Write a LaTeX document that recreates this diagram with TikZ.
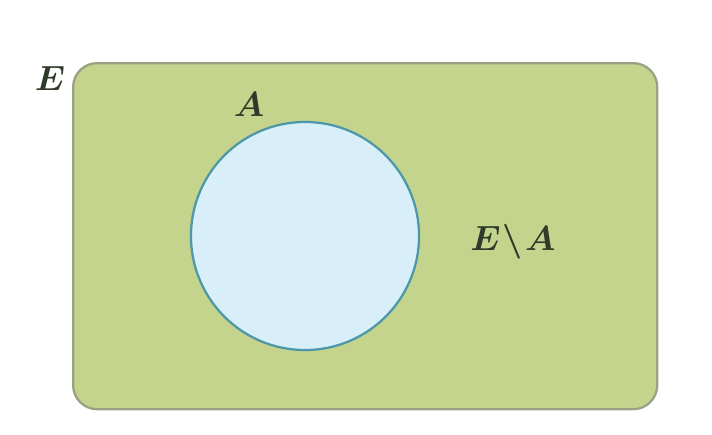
\documentclass[tikz,border=0pt]{standalone}
\usepackage{amsmath,amssymb}
\usepackage{tikz}
\usetikzlibrary{positioning, backgrounds}
\usepackage{xcolor}
\definecolor{Olive}{HTML}{C5D48C}
\definecolor{OliveEdge}{HTML}{98A282}
\definecolor{SkyFill}{HTML}{D8EEF9}
\definecolor{SkyEdge}{HTML}{4C98A8}
\definecolor{Ink}{HTML}{2F3A2A}

\begin{document}
\begin{tikzpicture}[
    x=0.025cm, y=-0.025cm,
    universe/.style={draw=OliveEdge, line width=1.6pt, fill=Olive, rounded corners=0.6cm},
    subset/.style={circle, draw=SkyEdge, line width=1.6pt, fill=SkyFill, minimum size=5.7cm, inner sep=0pt},
    setname/.style={text=Ink, font=\fontsize{23}{27}\selectfont, inner sep=0pt}
]

% Margins
\useasboundingbox (0,0) rectangle (712,435);

% Universe E
\node[universe, minimum width=14.6cm, minimum height=8.65cm, anchor=north west] (E) at (72,62) {};

% Subset A
\node[subset] (A) at (305,236) {};

% Labels
\node[setname] (Elabel) at (50,78) {$\boldsymbol{E}$};
\node[setname] (Alabel) at (249,104) {$\boldsymbol{A}$};
\node[setname] (EAlabel) at (513,242) {$\boldsymbol{E\mkern1mu\backslash\mkern1mu A}$};

\end{tikzpicture}
\end{document}
